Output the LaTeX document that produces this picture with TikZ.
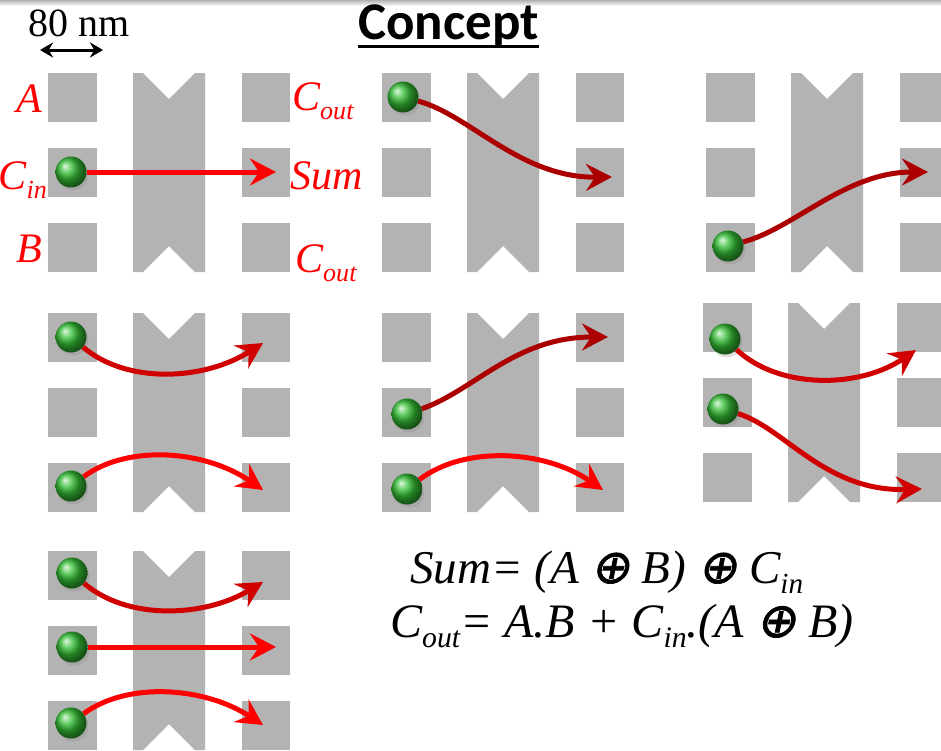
\documentclass[tikz,border=0pt]{standalone}
\usepackage{fontspec}
\setmainfont{Liberation Serif}
\newfontfamily\titlefont{Carlito}
\newfontfamily\opfont[FakeBold=1.5,FakeSlant=0.2]{DejaVu Sans}
\usetikzlibrary{arrows.meta,shadows}

\definecolor{padgray}{RGB}{179,179,179}
\definecolor{ballgreen}{RGB}{52,190,52}
\definecolor{flowdark}{RGB}{172,0,0}
\definecolor{flowmid}{RGB}{208,0,0}

% lowered, smaller index text
\newcommand\dn[1]{\raisebox{-0.22em}{\scalebox{0.62}{#1}}}
\newcommand\xorsym{{\opfont ⊕}}

\tikzset{
  pad/.style={fill=padgray},
  ball/.style={circle, minimum size=31pt, inner sep=0pt, shading=ball, ball color=ballgreen,
    drop shadow={opacity=0.25, shadow xshift=2pt, shadow yshift=-3pt}},
  flow/.style={line width=5pt, -{Stealth[length=26pt, width=27pt, inset=9pt]}},
  lbl/.style={text=red, font=\fontsize{42}{42}\selectfont\itshape, inner sep=0pt},
  eq/.style={anchor=base west, font=\fontsize{#1}{#1}\selectfont\itshape, inner sep=0pt},
}

\begin{document}
\begin{tikzpicture}[x=1pt, y=-1pt]
\useasboundingbox (0,0) rectangle (941,750);
\clip (0,0) rectangle (941,750);
\shade[top color=gray!60, bottom color=white] (0,0) rectangle (941,6);

% the seven pad layouts
\foreach \dx/\dy in {0/0, 334/0, 658/0, 0/240, 334/240, 655/230, 0/478} {
  \begin{scope}[shift={(\dx,\dy)}]
    \foreach \py in {73,148,223} {
      \fill[pad] (48,\py) rectangle ++(49,49);
      \fill[pad] (242,\py) rectangle ++(48,49);
    }
    \fill[pad] (133,73) -- (143,73) -- (169,99) -- (195,73) -- (205,73) -- (205,272)
      -- (195,272) -- (169,246) -- (143,272) -- (133,272) -- cycle;
  \end{scope}
}

% scale bar and title
\node[anchor=base, font=\fontsize{40}{40}\selectfont, inner sep=0pt] (scl) at (79,36) {80 nm};
\coordinate (sl) at (40,50);
\coordinate (sr) at (103,50);
\draw[line width=3pt, {Stealth[length=13pt,width=15pt]}-{Stealth[length=13pt,width=15pt]}] (sl) -- (sr);
\node[anchor=base west, font=\titlefont\bfseries\fontsize{53}{53}\selectfont, inner sep=0pt] (title) at (358,39) {Concept};
\draw[line width=3pt] ([yshift=-7pt]title.base west) -- ([yshift=-7pt]title.base east);

% port labels
\node[lbl, anchor=base east] (lA) at (42,112) {A};
\node[lbl, anchor=base east] (lCin) at (47,189) {C\dn{in}};
\node[lbl, anchor=base east] (lB) at (42,262) {B};
\node[lbl, anchor=base west] (lCo1) at (292,110) {C\dn{out}};
\node[lbl, anchor=base west] (lSum) at (290,189) {Sum};
\node[lbl, anchor=base west] (lCo2) at (295,272) {C\dn{out}};

% balls
\node[ball] (b1) at (71,172) {};
\node[ball] (b2) at (403,97) {};
\node[ball] (b3) at (728,246) {};
\node[ball] (b4a) at (71,337) {};
\node[ball] (b4b) at (71,486) {};
\node[ball] (b5a) at (407,414) {};
\node[ball] (b5b) at (407,489) {};
\node[ball] (b6a) at (725,339) {};
\node[ball] (b6b) at (723,409) {};
\node[ball] (b7a) at (72,573) {};
\node[ball] (b7b) at (72,647) {};
\node[ball] (b7c) at (71,723) {};

% arrow ends
\coordinate (t1) at (276,172);
\coordinate (t2) at (612,177);
\coordinate (t3) at (928,172);
\coordinate (t4a) at (263,343);
\coordinate (t4b) at (263,490);
\coordinate (t5a) at (608,337);
\coordinate (t5b) at (603,490);
\coordinate (t6a) at (916,350);
\coordinate (t6b) at (922,489);
\coordinate (t7a) at (263,582);
\coordinate (t7b) at (276,647);
\coordinate (t7c) at (263,725);

\draw[flow, red] (b1) -- (t1);
\draw[flow, flowdark] (b2) .. controls (470,115) and (520,178) .. (t2);
\draw[flow, flowdark] (b3) .. controls (795,228) and (845,172) .. (t3);
\draw[flow, flowmid] (b4a) .. controls (128,385) and (205,380) .. (t4a);
\draw[flow, red] (b4b) .. controls (128,444) and (205,450) .. (t4b);
\draw[flow, flowdark] (b5a) .. controls (475,390) and (515,337) .. (t5a);
\draw[flow, red] (b5b) .. controls (465,445) and (545,450) .. (t5b);
\draw[flow, flowmid] (b6a) .. controls (780,390) and (860,388) .. (t6a);
\draw[flow, flowmid] (b6b) .. controls (785,428) and (825,492) .. (t6b);
\draw[flow, flowmid] (b7a) .. controls (128,621) and (205,617) .. (t7a);
\draw[flow, red] (b7b) -- (t7b);
\draw[flow, red] (b7c) .. controls (128,681) and (205,687) .. (t7c);

% logic
\node[eq=47] (sumeq) at (410,583) {Sum= (A \xorsym{} B) \xorsym{} C\dn{in}};
\node[eq=48] (couteq) at (390,637) {C\dn{out}= A.B + C\dn{in}.(A \xorsym{} B)};
\end{tikzpicture}
\end{document}
